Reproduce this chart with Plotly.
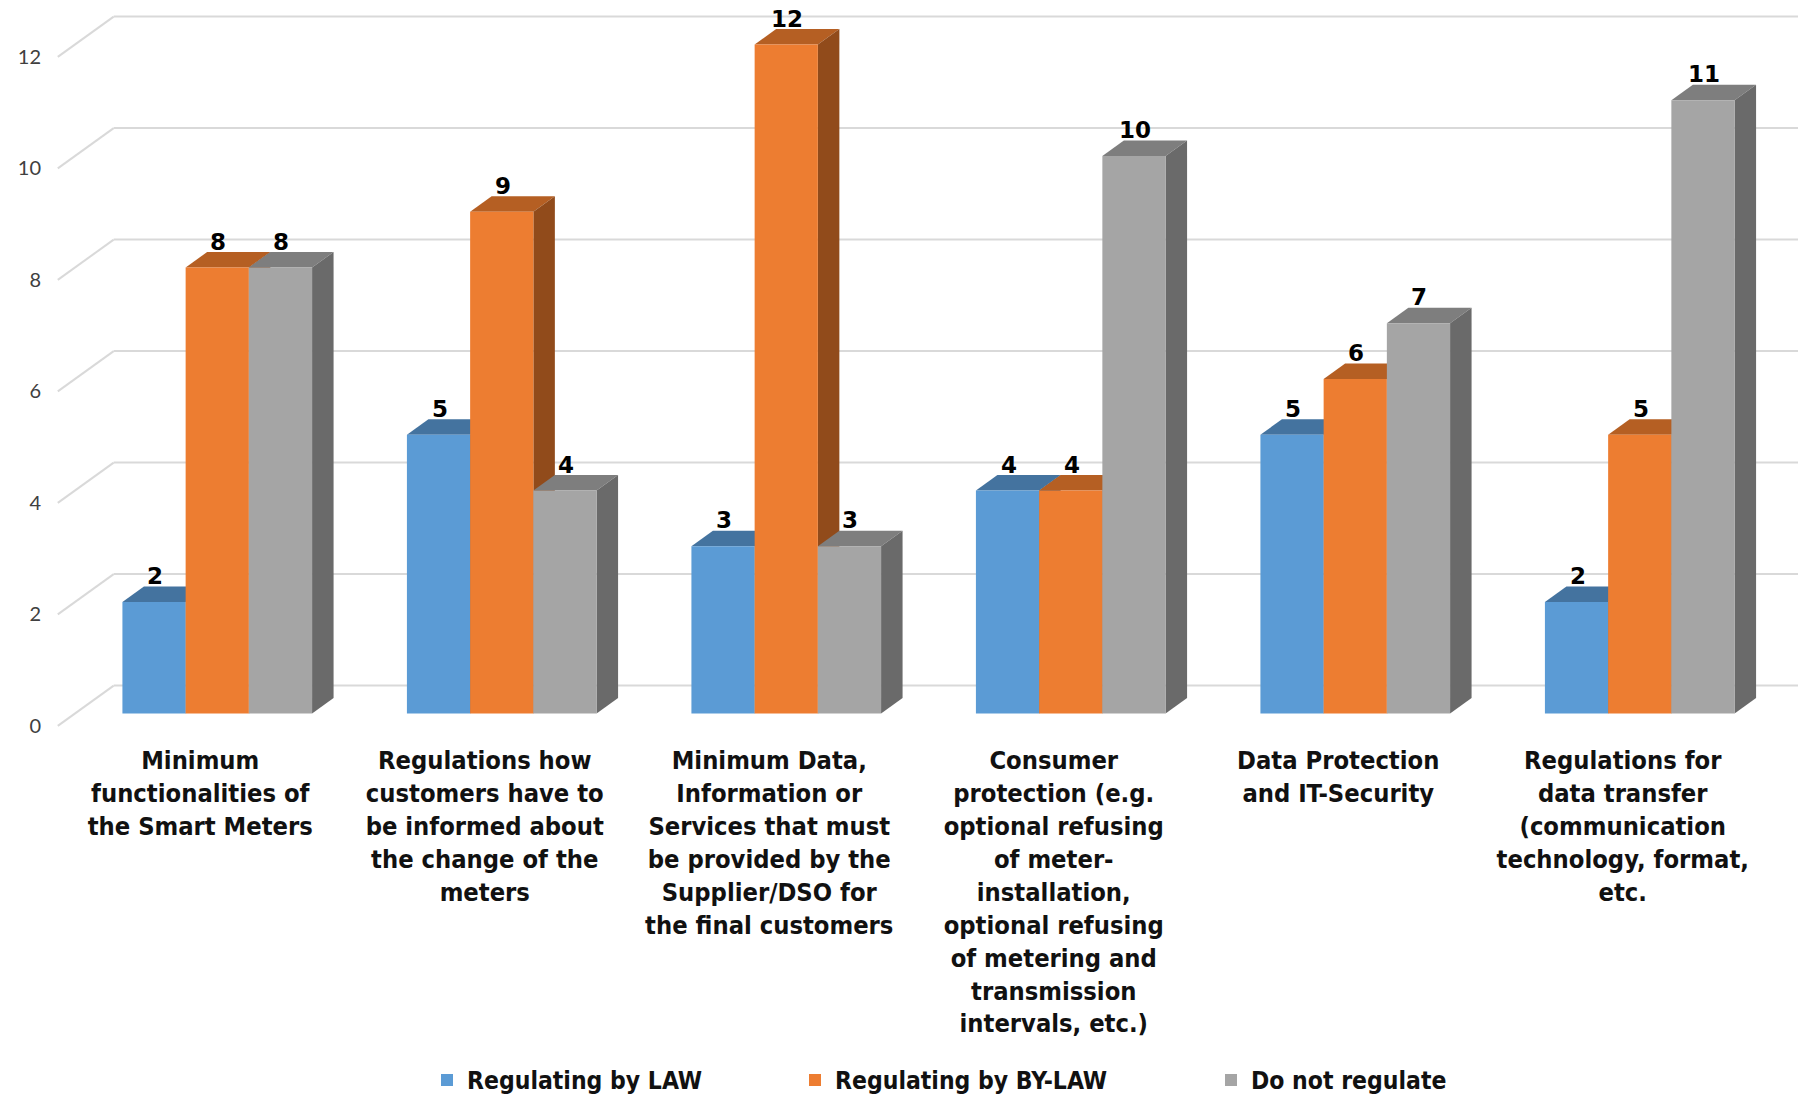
import plotly.graph_objects as go

# ---- data -------------------------------------------------------------
CATEGORIES = [
    "Minimum<br>functionalities of<br>the Smart Meters",
    "Regulations how<br>customers have to<br>be informed about<br>the change of the<br>meters",
    "Minimum Data,<br>Information or<br>Services that must<br>be provided by the<br>Supplier/DSO for<br>the final customers",
    "Consumer<br>protection (e.g.<br>optional refusing<br>of meter-<br>installation,<br>optional refusing<br>of metering and<br>transmission<br>intervals, etc.)",
    "Data Protection<br>and IT-Security",
    "Regulations for<br>data transfer<br>(communication<br>technology, format,<br>etc.",
]
SERIES_NAMES = ["Regulating by LAW", "Regulating by BY-LAW", "Do not regulate"]
LAW = [2, 5, 3, 4, 5, 2]
BY_LAW = [8, 9, 12, 4, 6, 5]
NOT_REGULATE = [8, 4, 3, 10, 7, 11]
Y_TICKS = [0, 2, 4, 6, 8, 10, 12]

SERIES = [LAW, BY_LAW, NOT_REGULATE]
# front / top / side shades of every series
SHADES = [
    ("#5B9BD5", "#44739F", "#3A6489"),
    ("#ED7D31", "#B55F23", "#914B1B"),
    ("#A5A5A5", "#7E7E7E", "#6A6A6A"),
]

# ---- layout geometry ---------------------------------------------------
W, H = 1798, 1098
M_L, M_R, M_T, M_B = 50, 0, 0, 358
PX_PER_CAT = 284.5          # horizontal pixels per category slot
PX_PER_VAL = 55.75          # vertical pixels per value unit
ZERO_ROW = 713.5            # pixel row of value 0 on the front plane
LEFT_EDGE = 75.0            # pixel column of the left edge of the first slot
BARGAP = 1 / 3
BAR_W = (1 - BARGAP) / 3

plot_w = W - M_L - M_R
plot_h = H - M_T - M_B
x0_val = -0.5 - (LEFT_EDGE - M_L) / PX_PER_CAT
x_range = [x0_val, x0_val + plot_w / PX_PER_CAT]
y_range = [(ZERO_ROW - (M_T + plot_h)) / PX_PER_VAL, (ZERO_ROW - M_T) / PX_PER_VAL]

# oblique depth vector of one bar depth, in data units
DX = 21.5 / PX_PER_CAT
DY = 15.5 / PX_PER_VAL
FLOOR_FRONT = -0.8          # depth of the floor front edge (in bar depths)
BACK_WALL = 1.8             # depth of the back wall (in bar depths)

GRID = "#D9D9D9"
LABEL_FONT = "DejaVu Sans Condensed"


def poly(points):
    return "M" + " L".join(f"{x:.5f},{y:.5f}" for x, y in points) + " Z"


shapes = []
# back wall gridlines and left wall diagonals
for v in Y_TICKS:
    bx = -0.5 + BACK_WALL * DX
    by = v + BACK_WALL * DY
    shapes.append(dict(type="line", xref="x", yref="y", layer="below",
                       x0=bx, y0=by, x1=x_range[1] + 1, y1=by,
                       line=dict(color=GRID, width=2)))
    shapes.append(dict(type="line", xref="x", yref="y", layer="below",
                       x0=-0.5 + FLOOR_FRONT * DX, y0=v + FLOOR_FRONT * DY,
                       x1=bx, y1=by,
                       line=dict(color=GRID, width=2)))

# top and right-side faces of the columns, painted left to right
for i in range(len(CATEGORIES)):
    for k, vals in enumerate(SERIES):
        v = vals[i]
        xl = i + (k - 1) * BAR_W - BAR_W / 2
        xr = xl + BAR_W
        _, top_c, side_c = SHADES[k]
        shapes.append(dict(type="path", xref="x", yref="y", layer="below",
                           path=poly([(xl, v), (xr, v), (xr + DX, v + DY), (xl + DX, v + DY)]),
                           fillcolor=top_c, line=dict(width=0)))
        shapes.append(dict(type="path", xref="x", yref="y", layer="below",
                           path=poly([(xr, 0), (xr, v), (xr + DX, v + DY), (xr + DX, DY)]),
                           fillcolor=side_c, line=dict(width=0)))

fig = go.Figure()
legend_ids = ["legend", "legend2", "legend3"]
for k, (name, vals) in enumerate(zip(SERIES_NAMES, SERIES)):
    fig.add_trace(go.Bar(
        x=list(range(len(CATEGORIES))), y=vals, name=name,
        marker=dict(color=SHADES[k][0], line=dict(width=0)),
        legend=legend_ids[k],
    ))

# value labels
annotations = []
for k, vals in enumerate(SERIES):
    for i, v in enumerate(vals):
        annotations.append(dict(
            x=i + (k - 1) * BAR_W, y=v, xref="x", yref="y",
            text=str(v), showarrow=False, yshift=26, xshift=1,
            font=dict(family="DejaVu Sans", size=23, color="#000000", weight="bold"),
        ))

legend_common = dict(orientation="h", yanchor="middle", xanchor="left",
                     y=(M_T + plot_h - 1080) / plot_h,
                     font=dict(family=LABEL_FONT, size=24.5, color="#111111", weight="bold"),
                     bgcolor="rgba(0,0,0,0)")
legend_text_px = [469, 837, 1253]
legends = {}
for lid, tx in zip(legend_ids, legend_text_px):
    legends[lid] = dict(legend_common, x=(tx - 42 - M_L) / plot_w)

fig.update_layout(
    width=W, height=H,
    margin=dict(l=M_L, r=M_R, t=M_T, b=M_B, autoexpand=False),
    paper_bgcolor="white", plot_bgcolor="white",
    barmode="group", bargap=BARGAP, bargroupgap=0,
    showlegend=True,
    shapes=shapes,
    annotations=annotations,
    xaxis=dict(range=x_range, tickmode="array",
               tickvals=list(range(len(CATEGORIES))), ticktext=CATEGORIES,
               showgrid=False, zeroline=False, showline=False, ticks="",
               tickangle=0, ticklabelshift=-17, ticklabelstandoff=3,
               tickfont=dict(family=LABEL_FONT, size=25.3, color="#111111", weight="bold")),
    yaxis=dict(range=y_range, tickmode="array", tickvals=Y_TICKS,
               showgrid=False, zeroline=False, showline=False, ticks="",
               ticklabelshift=12, ticklabelstandoff=8,
               tickfont=dict(family="Lato", size=20, color="#404040")),
    **legends,
)

fig.write_html("out.html")
